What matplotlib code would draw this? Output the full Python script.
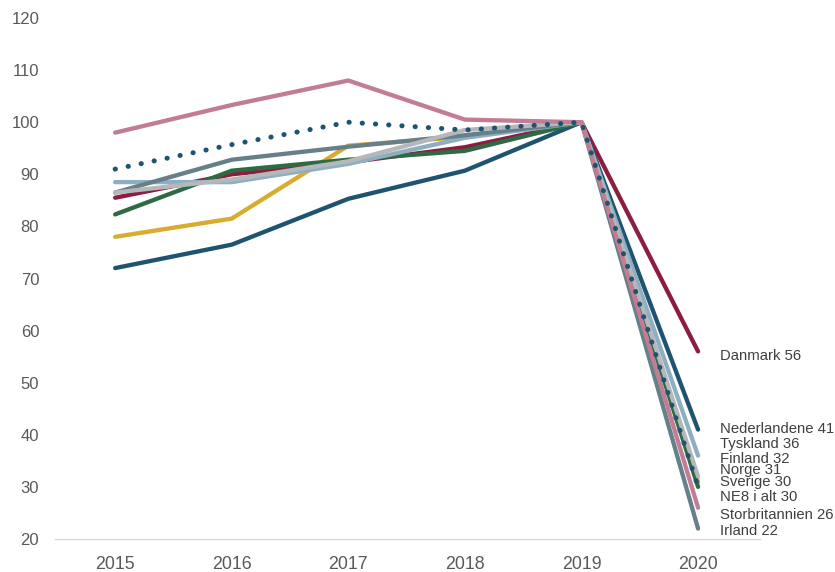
import matplotlib
matplotlib.use("Agg")
import matplotlib.pyplot as plt

years = [2015, 2016, 2017, 2018, 2019, 2020]

danmark = [85.5, 90.0, 92.3, 95.2, 100, 56]
nederlandene = [72.0, 76.5, 85.3, 90.7, 100, 41]
norge = [78.0, 81.5, 95.5, 97.2, 100, 31]
sverige = [82.3, 90.7, 92.8, 94.5, 100, 30]
tyskland = [88.5, 88.5, 92.0, 97.0, 100, 36]
irland = [86.5, 92.8, 95.3, 97.5, 100, 22]
finland = [86.5, 89.0, 92.5, 98.5, 100, 32]
storbritannien = [98.0, 103.3, 108.0, 100.5, 100, 26]
ne8 = [91.0, 95.7, 100.0, 98.5, 100, 30]

names = ["Danmark", "Nederlandene", "Norge", "Sverige", "Tyskland",
         "Irland", "Finland", "Storbritannien", "NE8 i alt"]
series = [danmark, nederlandene, norge, sverige, tyskland,
          irland, finland, storbritannien, ne8]

colors = {
    "Danmark": "#8C1D40",
    "Nederlandene": "#1E5470",
    "Norge": "#D9AC2F",
    "Sverige": "#2E6B45",
    "Tyskland": "#8EAFC2",
    "Irland": "#667F89",
    "Finland": "#B4B8BB",
    "Storbritannien": "#C27C93",
    "NE8 i alt": "#1E5470",
}

# label layout (y positions in data units, to avoid overlap)
label_y = {
    "Danmark": 55.1, "Nederlandene": 41.1, "Tyskland": 38.2, "Finland": 35.4,
    "Norge": 33.2, "Sverige": 30.9, "NE8 i alt": 28.1,
    "Storbritannien": 24.6, "Irland": 21.5,
}

plt.rcParams['font.family'] = ['Liberation Sans', 'DejaVu Sans']

fig = plt.figure(figsize=(8.35, 5.72), dpi=100)
ax = fig.add_axes([0.066, 0.0577, 0.844, 0.9108])

for name, vals in zip(names, series):
    if name == "NE8 i alt":
        ax.plot(years, vals, color=colors[name], lw=3.6,
                linestyle=(0, (0.05, 2.6)), dash_capstyle='round',
                solid_capstyle='round', zorder=5)
    else:
        ax.plot(years, vals, color=colors[name], lw=3.1,
                solid_capstyle='round', solid_joinstyle='round', zorder=3)
    ax.text(2020.19, label_y[name], f"{name} {vals[-1]:.0f}",
            fontsize=10.7, color="#404040", va='center', ha='left')

ax.set_xlim(2014.485, 2020.53)
ax.set_ylim(20, 120)
ax.set_xticks(years)
ax.set_yticks(range(20, 121, 10))
for s in ['top', 'right', 'left']:
    ax.spines[s].set_visible(False)
ax.spines['bottom'].set_color('#D9D9D9')
ax.spines['bottom'].set_linewidth(1.0)
ax.tick_params(axis='both', length=0, labelcolor='#595959')
ax.tick_params(axis='y', pad=11.5, labelsize=12)
ax.tick_params(axis='x', pad=12.5, labelsize=12.8)

fig.savefig("out.png", dpi=100)
